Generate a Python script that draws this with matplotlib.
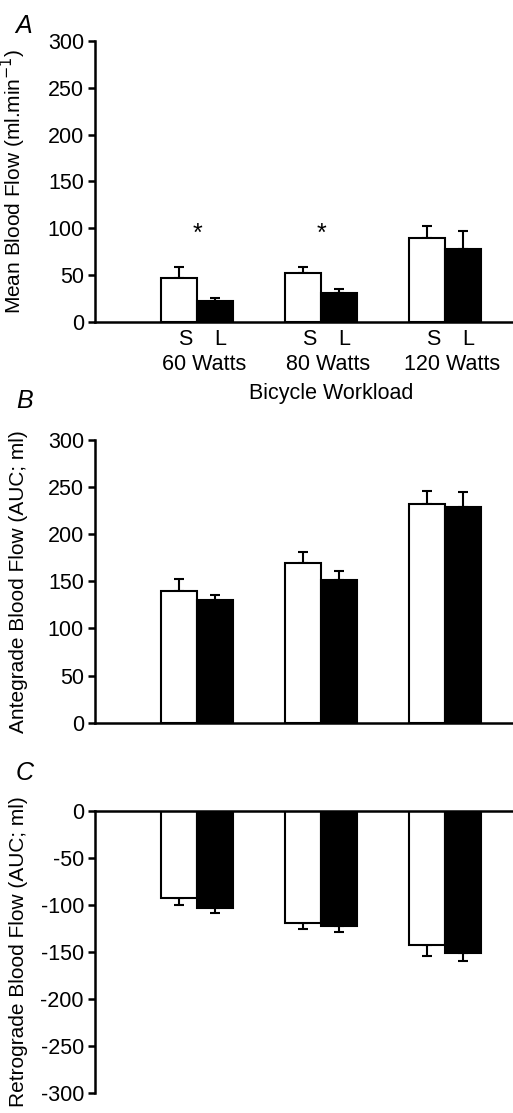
import matplotlib
matplotlib.use("Agg")
import matplotlib.pyplot as plt
import numpy as np

plt.rcParams['font.family'] = ['Liberation Sans', 'DejaVu Sans']
plt.rcParams['axes.unicode_minus'] = False

workloads = ["60 Watts", "80 Watts", "120 Watts"]
groups = ["S", "L"]

mean_S = [47, 52, 90]
mean_S_err = [12, 7, 12]
mean_L = [22, 31, 78]
mean_L_err = [4, 4, 19]

ante_S = [140, 170, 232]
ante_S_err = [12, 11, 14]
ante_L = [130, 151, 229]
ante_L_err = [5, 10, 16]

retro_S = [-93, -119, -143]
retro_S_err = [7, 7, 11]
retro_L = [-103, -122, -151]
retro_L_err = [6, 7, 9]

W, H = 513, 1113
fig = plt.figure(figsize=(W / 100, H / 100), dpi=100)

left = 95 / W
width = 1 - left
axA = fig.add_axes([left, 1 - 322 / H, width, 281 / H])
axB = fig.add_axes([left, 1 - 722.7 / H, width, 282.7 / H])
axC = fig.add_axes([left, 1 - 1092.7 / H, width, 281.7 / H])

x = np.arange(len(workloads))
bw = 0.29
fs = 15.5
fsl = 15


def draw(ax, s, se, l, le, neg=False):
    xs = x - bw / 2
    xl = x + bw / 2
    ax.bar(xs, s, bw, color='white', edgecolor='black', linewidth=1.5, zorder=2)
    ax.bar(xl, l, bw, color='black', edgecolor='black', linewidth=1.5, zorder=2)
    kw = dict(fmt='none', ecolor='black', elinewidth=1.5, capsize=3.5, capthick=1.5, zorder=1)
    if neg:
        ax.errorbar(xs, s, yerr=[se, np.zeros(3)], **kw)
        ax.errorbar(xl, l, yerr=[le, np.zeros(3)], **kw)
    else:
        ax.errorbar(xs, s, yerr=[np.zeros(3), se], **kw)
        ax.errorbar(xl, l, yerr=[np.zeros(3), le], **kw)
    ax.set_xlim(-0.823, 2.548)
    ax.set_xticks([])
    ax.spines['right'].set_visible(False)
    ax.spines['left'].set_linewidth(1.8)
    if neg:
        ax.spines['bottom'].set_visible(False)
        ax.spines['top'].set_linewidth(1.8)
    else:
        ax.spines['top'].set_visible(False)
        ax.spines['bottom'].set_linewidth(1.8)
    ax.tick_params(axis='y', direction='out', length=5, width=1.8, labelsize=fs, pad=3)


draw(axA, mean_S, mean_S_err, mean_L, mean_L_err)
axA.set_ylim(0, 300)
axA.set_yticks(range(0, 301, 50))
axA.set_ylabel("Mean Blood Flow (ml.min$^{-1}$)", fontsize=fsl)
for i in x:
    axA.text(i - bw / 2 + 0.05, -8, groups[0], ha='center', va='top', fontsize=fs)
    axA.text(i + bw / 2 + 0.04, -8, groups[1], ha='center', va='top', fontsize=fs)
    axA.text(i + 0.06, -34, workloads[i], ha='center', va='top', fontsize=fs)
for i in [0, 1]:
    axA.text(i, 94, "*", ha='center', va='center', fontsize=18)
fig.text(331 / W, 1 - 394 / H, "Bicycle Workload", ha='center', va='center', fontsize=fs)

draw(axB, ante_S, ante_S_err, ante_L, ante_L_err)
axB.set_ylim(0, 300)
axB.set_yticks(range(0, 301, 50))
axB.set_ylabel("Antegrade Blood Flow (AUC; ml)", fontsize=fsl)

draw(axC, retro_S, retro_S_err, retro_L, retro_L_err, neg=True)
axC.set_ylim(-300, 0)
axC.set_yticks(range(-300, 1, 50))
axC.set_ylabel("Retrograde Blood Flow (AUC; ml)", fontsize=fsl)

for ax in (axA, axB, axC):
    ax.yaxis.set_label_coords(-0.16, 0.5)

fig.text(24 / W, 1 - 26 / H, "A", style='italic', fontsize=18, ha='center', va='center')
fig.text(25 / W, 1 - 401 / H, "B", style='italic', fontsize=18, ha='center', va='center')
fig.text(25 / W, 1 - 773 / H, "C", style='italic', fontsize=18, ha='center', va='center')

fig.savefig("out.png", dpi=100)
